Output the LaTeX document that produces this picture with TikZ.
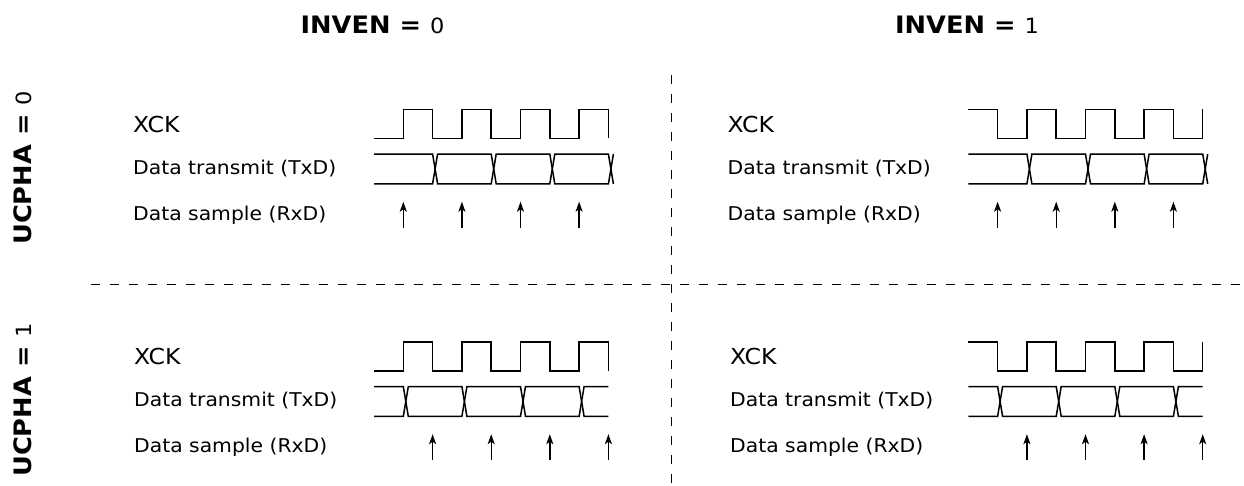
\documentclass[tikz,border=0pt]{standalone}
\usepackage{fontspec}
\setmainfont{DejaVu Sans}[FakeStretch=1.07]
\usetikzlibrary{arrows.meta}
\tikzset{
  wave/.style={line width=1.5pt, line join=miter},
  sample/.style={line width=1.4pt, -{Stealth[length=10pt,width=7pt,inset=2.5pt]}},
  divider/.style={line width=1.3pt, dash pattern=on 9pt off 10pt},
  lblbig/.style={anchor=base west, inner sep=0pt, font=\fontsize{22}{22}\selectfont},
  lbl/.style={anchor=base west, inner sep=0pt, font=\fontsize{19}{19}\selectfont},
  head/.style={anchor=base, inner sep=0pt, font=\fontsize{24}{24}\selectfont\bfseries},
  side/.style={rotate=90, anchor=center, inner sep=0pt, font=\fontsize{24}{24}\selectfont\bfseries},
}
\newcommand\digit[1]{{\mdseries\fontsize{21}{21}\selectfont #1}}
% #1 x0, #2 y offset, #3 inven, #4 ucpha, #5 text x, #6 name prefix
\newcommand\wavepanel[6]{%
  \node[lblbig] (#6xck) at (#5,132+#2) {XCK};
  \node[lbl] (#6tx) at (#5,174+#2) {Data transmit (TxD)};
  \node[lbl] (#6rx) at (#5,220+#2) {Data sample (RxD)};
  \begin{scope}[shift={(#1,#2)}]
    \ifnum#3=0
      \draw[wave] (0,138.4) \foreach \i in {1,...,4}{ -- ++(29.3,0) -- ++(0,-29.1) -- ++(29.3,0) -- ++(0,29.1)};
    \else
      \draw[wave] (0,109.3) \foreach \i in {1,...,4}{ -- ++(29.3,0) -- ++(0,29.1) -- ++(29.3,0) -- ++(0,-29.1)};
    \fi
    \ifnum#4=0
      \draw[wave] (0,154) -- (58.6,154) -- (63.6,183.9) -- (117.2,183.9) -- (122.2,154) -- (175.8,154) -- (180.8,183.9) -- (234.4,183.9) -- (239.4,154);
      \draw[wave] (0,183.9) -- (58.6,183.9) -- (63.6,154) -- (117.2,154) -- (122.2,183.9) -- (175.8,183.9) -- (180.8,154) -- (234.4,154) -- (239.4,183.9);
      \foreach \e in {29.3,87.9,146.5,205.1}{\draw[sample] (\e,227.7) -- (\e,201.7);}
    \else
      \draw[wave] (0,154) -- (29.3,154) -- (34.3,183.9) -- (87.9,183.9) -- (92.9,154) -- (146.5,154) -- (151.5,183.9) -- (205.1,183.9) -- (210.1,154) -- (234.4,154);
      \draw[wave] (0,183.9) -- (29.3,183.9) -- (34.3,154) -- (87.9,154) -- (92.9,183.9) -- (146.5,183.9) -- (151.5,154) -- (205.1,154) -- (210.1,183.9) -- (234.4,183.9);
      \foreach \e in {58.6,117.2,175.8,234.4}{\draw[sample] (\e,227.7) -- (\e,201.7);}
    \fi
  \end{scope}}
\begin{document}
\begin{tikzpicture}[x=1pt,y=-1pt]
\useasboundingbox (0,0) rectangle (1244,485);
% headers
\node[head] (inv0) at (372.5,33.3) {INVEN = \digit{0}};
\node[head] (inv1) at (967,33.3) {INVEN = \digit{1}};
\node[side] (uc0) at (23,168) {UCPHA = \digit{0}};
\node[side] (uc1) at (23,400) {UCPHA = \digit{1}};
% dividers
\coordinate (vtop) at (671.7,75);
\coordinate (vbot) at (671.7,485);
\coordinate (hl) at (90.7,284.3);
\coordinate (hr) at (1240,284.3);
\draw[divider] (vtop) -- (vbot);
\draw[divider] (hl) -- (hr);
% panels
\wavepanel{374}{0}{0}{0}{133}{a}
\wavepanel{968.3}{0}{1}{0}{727.5}{b}
\wavepanel{374}{232.5}{0}{1}{134}{c}
\wavepanel{968.3}{232.5}{1}{1}{730}{d}
\end{tikzpicture}
\end{document}
